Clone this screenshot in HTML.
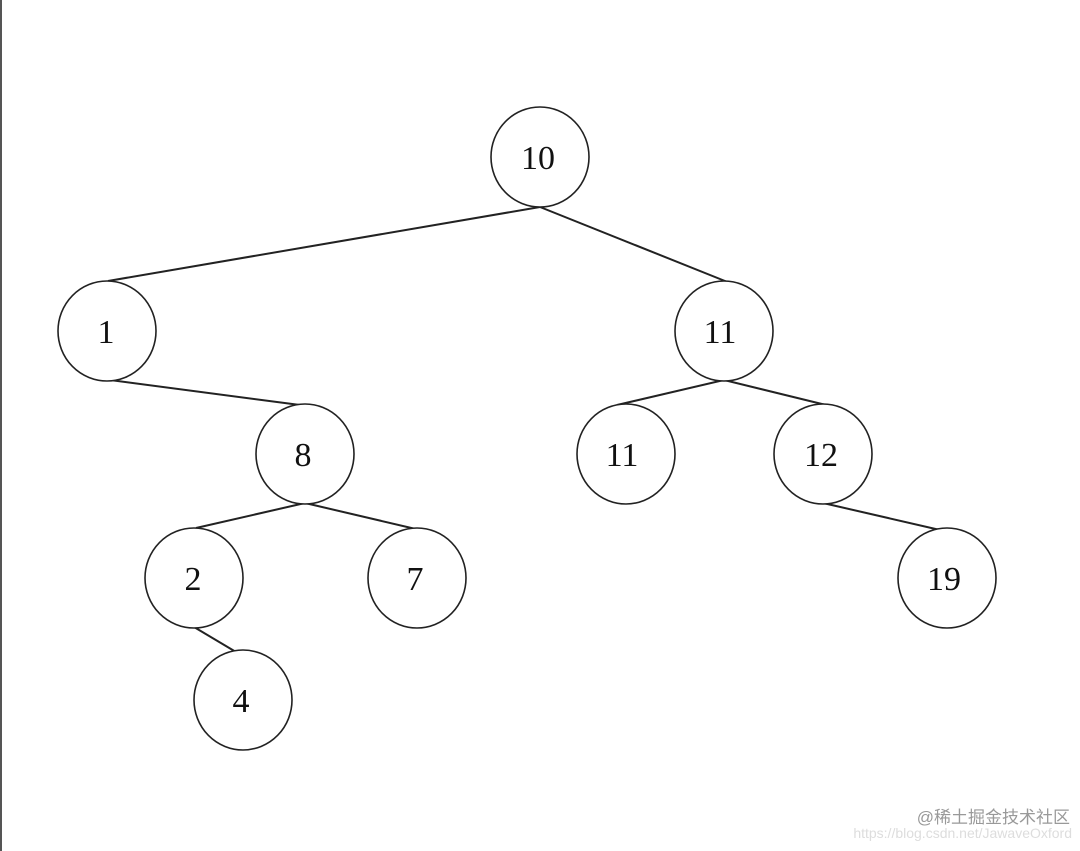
<!DOCTYPE html>
<html><head><style>html,body{margin:0;padding:0;background:#fff;width:1080px;height:851px;overflow:hidden}</style></head>
<body>
<svg width="1080" height="851" viewBox="0 0 1080 851" xmlns="http://www.w3.org/2000/svg">
<rect x="0" y="0" width="1080" height="851" fill="#fff"/>
<line x1="1" y1="0" x2="1" y2="851" stroke="#555" stroke-width="2"/>
<g stroke="#222" stroke-width="2" fill="none">
<line x1="540" y1="207" x2="108" y2="281"/>
<line x1="540" y1="207" x2="730" y2="283"/>
<line x1="110" y1="380" x2="300" y2="405"/>
<line x1="724" y1="380" x2="617" y2="405"/>
<line x1="724" y1="380" x2="826" y2="405"/>
<line x1="305" y1="503" x2="196" y2="528"/>
<line x1="305" y1="503" x2="420" y2="530"/>
<line x1="823" y1="503" x2="940" y2="530"/>
<line x1="194" y1="627" x2="236" y2="652"/>
</g>
<g stroke="#222" stroke-width="1.6" fill="#fff">
<ellipse cx="540" cy="157" rx="49" ry="50"/>
<ellipse cx="107" cy="331" rx="49" ry="50"/>
<ellipse cx="724" cy="331" rx="49" ry="50"/>
<ellipse cx="305" cy="454" rx="49" ry="50"/>
<ellipse cx="626" cy="454" rx="49" ry="50"/>
<ellipse cx="823" cy="454" rx="49" ry="50"/>
<ellipse cx="194" cy="578" rx="49" ry="50"/>
<ellipse cx="417" cy="578" rx="49" ry="50"/>
<ellipse cx="947" cy="578" rx="49" ry="50"/>
<ellipse cx="243" cy="700" rx="49" ry="50"/>
</g>
<g font-family="Liberation Serif, serif" font-size="34" fill="#111" text-anchor="middle">
<text x="538" y="169">10</text>
<text x="106" y="343">1</text>
<text x="720" y="343">11</text>
<text x="303" y="466">8</text>
<text x="622" y="466">11</text>
<text x="821" y="466">12</text>
<text x="193" y="590">2</text>
<text x="415" y="590">7</text>
<text x="944" y="590">19</text>
<text x="241" y="712">4</text>
</g>
<text x="1070" y="823" text-anchor="end" font-family="Liberation Sans, Noto Sans CJK SC, sans-serif" font-size="17" fill="#999">@稀土掘金技术社区</text>
<text x="1072" y="838" text-anchor="end" font-family="Liberation Sans, sans-serif" font-size="14" fill="#ddd">https://blog.csdn.net/JawaveOxford</text>
</svg>
</body></html>
